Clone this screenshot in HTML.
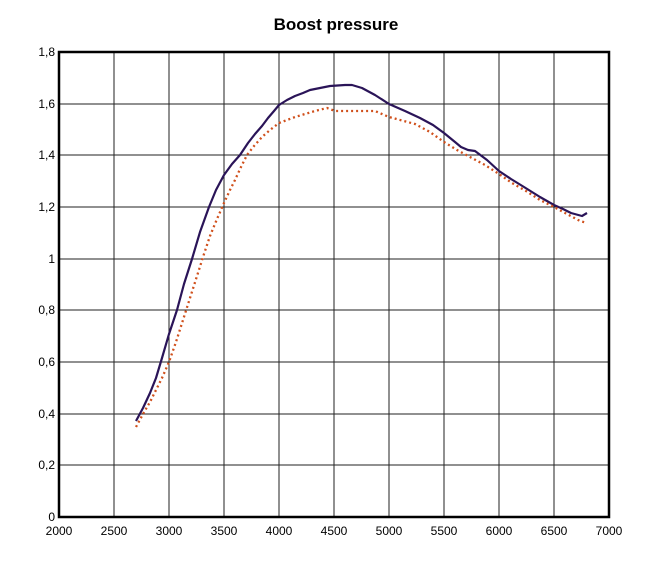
<!DOCTYPE html><html><head><style>body{margin:0;background:#fff}</style></head><body>
<svg width="647" height="572" xmlns="http://www.w3.org/2000/svg" font-family="Liberation Sans, Arial, sans-serif">
<rect width="647" height="572" fill="#fff"/>
<text x="336" y="30" text-anchor="middle" font-size="17" font-weight="bold">Boost pressure</text>
<g stroke="#222" stroke-width="1">
<line x1="114" y1="52" x2="114" y2="517"/><line x1="169" y1="52" x2="169" y2="517"/><line x1="224" y1="52" x2="224" y2="517"/><line x1="279" y1="52" x2="279" y2="517"/><line x1="334" y1="52" x2="334" y2="517"/><line x1="389" y1="52" x2="389" y2="517"/><line x1="444" y1="52" x2="444" y2="517"/><line x1="499" y1="52" x2="499" y2="517"/><line x1="554" y1="52" x2="554" y2="517"/>
<line x1="59" y1="104" x2="609" y2="104"/><line x1="59" y1="155" x2="609" y2="155"/><line x1="59" y1="207" x2="609" y2="207"/><line x1="59" y1="259" x2="609" y2="259"/><line x1="59" y1="310" x2="609" y2="310"/><line x1="59" y1="362" x2="609" y2="362"/><line x1="59" y1="414" x2="609" y2="414"/><line x1="59" y1="465" x2="609" y2="465"/>
</g>
<rect x="59" y="52" width="550" height="465" fill="none" stroke="#000" stroke-width="2.5"/>
<g font-size="12" text-anchor="end">
<text x="55" y="56">1,8</text><text x="55" y="108">1,6</text><text x="55" y="159">1,4</text><text x="55" y="211">1,2</text><text x="55" y="263">1</text><text x="55" y="314">0,8</text><text x="55" y="366">0,6</text><text x="55" y="418">0,4</text><text x="55" y="469">0,2</text><text x="55" y="521">0</text>
</g>
<g font-size="12" text-anchor="middle">
<text x="59" y="535">2000</text><text x="114" y="535">2500</text><text x="169" y="535">3000</text><text x="224" y="535">3500</text><text x="279" y="535">4000</text><text x="334" y="535">4500</text><text x="389" y="535">5000</text><text x="444" y="535">5500</text><text x="499" y="535">6000</text><text x="554" y="535">6500</text><text x="609" y="535">7000</text>
</g>
<polyline fill="none" stroke="#2a1458" stroke-width="2.2" stroke-linejoin="round" points="136,421 143,408 150,393 156,378 162,358 169,334 177,310 184,284 192,259 200,232 209,207 216,190 224,175 232,164 240,155 248,143 255,134 262,126 268,118 274,111 279,105 287,100 295,96 303,93 310,90 320,88 330,86 345,85 352,85 362,88 375,95 389,104 405,111 420,118 433,125 444,133 455,142 461,147 468,150 475,151 487,160 499,171 511,179 524,187 540,197 554,205 563,209 571,213 582,216 587,213"/>
<polyline fill="none" stroke="#d0501c" stroke-width="2.3" stroke-dasharray="2,3" points="136,427 143,414 150,402 156,390 162,378 169,362 176,342 183,320 190,298 197,276 204,254 210,236 217,219 224,203 230,190 235,180 241,167 247,155 254,146 262,137 270,130 279,123 287,120 295,117 305,114 315,111 327,108 335,111 375,111 389,117 415,124 430,132 444,142 457,150 470,157 485,165 499,174 512,183 526,191 540,200 554,207 567,214 580,221 587,223"/>
</svg>
</body></html>
